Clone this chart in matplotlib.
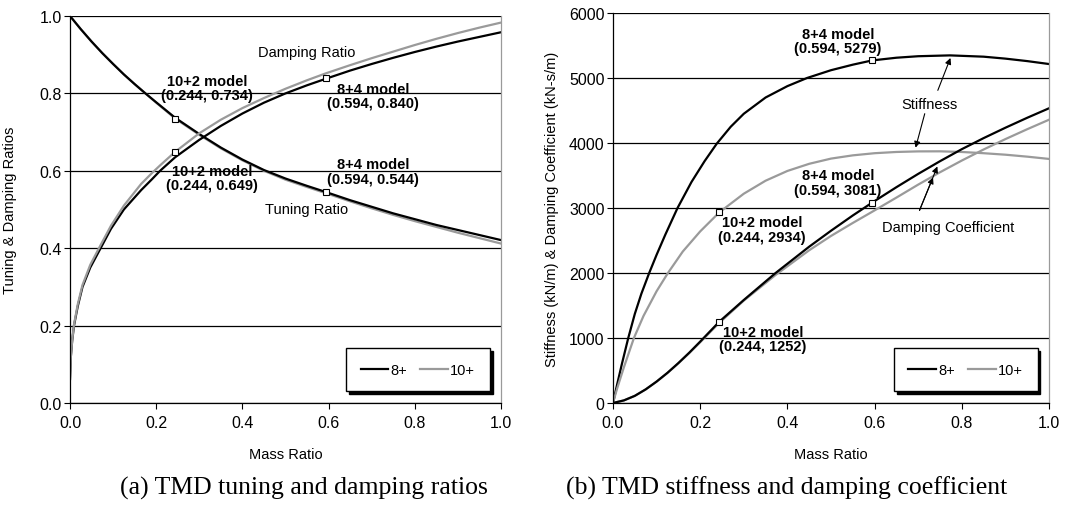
import matplotlib
matplotlib.use("Agg")
import matplotlib.pyplot as plt

plt.rcParams['font.family'] = ['Liberation Sans', 'DejaVu Sans']

BLACK = 'black'
GRAY = '#9a9a9a'

# (a) tuning ratio
tune_x = [0, 0.025, 0.05, 0.075, 0.1, 0.125, 0.15, 0.175, 0.2, 0.244, 0.3, 0.35,
          0.4, 0.45, 0.5, 0.55, 0.594, 0.65, 0.7, 0.75, 0.8, 0.85, 0.9, 0.95, 1.0]
tune_8 = [1.0, 0.966, 0.934, 0.904, 0.876, 0.849, 0.824, 0.8, 0.777, 0.737, 0.695, 0.66,
          0.629, 0.602, 0.58, 0.561, 0.545, 0.524, 0.507, 0.49, 0.475, 0.46, 0.447, 0.434, 0.421]
tune_10 = [1.0, 0.966, 0.934, 0.904, 0.876, 0.849, 0.824, 0.8, 0.776, 0.735, 0.693, 0.658,
           0.627, 0.6, 0.577, 0.558, 0.542, 0.521, 0.503, 0.486, 0.47, 0.455, 0.44, 0.426, 0.412]

# (a) damping ratio
damp_x = [0, 0.002, 0.005, 0.0093, 0.018, 0.029, 0.047, 0.071, 0.095, 0.125, 0.145, 0.165,
          0.19, 0.209, 0.244, 0.3, 0.35, 0.4, 0.45, 0.5, 0.55, 0.594, 0.65, 0.7, 0.75,
          0.8, 0.85, 0.9, 0.95, 1.0]
damp_8 = [0.062, 0.12, 0.16, 0.2, 0.25, 0.3, 0.35, 0.4, 0.45, 0.5, 0.525, 0.55,
          0.578, 0.6, 0.635, 0.68, 0.716, 0.748, 0.776, 0.8, 0.821, 0.838, 0.859, 0.876, 0.892,
          0.907, 0.921, 0.934, 0.946, 0.958]
damp_10 = [0.062, 0.12, 0.162, 0.203, 0.255, 0.305, 0.357, 0.408, 0.458, 0.51, 0.538, 0.566,
           0.594, 0.614, 0.649, 0.697, 0.732, 0.762, 0.788, 0.812, 0.834, 0.852, 0.873, 0.891,
           0.908, 0.925, 0.941, 0.956, 0.97, 0.983]

# (b) stiffness (kN/m)
stiff8_x = [0, 0.005, 0.01, 0.02, 0.035, 0.05, 0.065, 0.083, 0.1, 0.12, 0.148, 0.18, 0.21,
            0.238, 0.27, 0.3, 0.35, 0.4, 0.445, 0.5, 0.55, 0.594, 0.65, 0.7, 0.773, 0.85,
            0.9, 0.95, 1.0]
stiff_8 = [0, 150, 300, 590, 1000, 1370, 1680, 2000, 2280, 2590, 3000, 3400, 3720,
           3990, 4250, 4450, 4700, 4875, 5000, 5120, 5205, 5270, 5312, 5335, 5348, 5328,
           5298, 5260, 5215]
stiff10_x = [0, 0.005, 0.01, 0.025, 0.048, 0.07, 0.1, 0.126, 0.16, 0.2, 0.244, 0.3, 0.35,
             0.4, 0.45, 0.5, 0.55, 0.6, 0.65, 0.7, 0.75, 0.8, 0.85, 0.9, 0.95, 1.0]
stiff_10 = [0, 120, 235, 550, 1000, 1340, 1720, 2000, 2330, 2640, 2934, 3220, 3420,
            3570, 3680, 3760, 3810, 3843, 3862, 3871, 3872, 3862, 3843, 3820, 3790, 3755]

# (b) damping coefficient (kN-s/m)
coef_x = [0, 0.025, 0.05, 0.075, 0.1, 0.125, 0.15, 0.175, 0.2, 0.244, 0.3, 0.372, 0.45,
          0.5, 0.55, 0.594, 0.65, 0.7, 0.75, 0.8, 0.85, 0.9, 0.95, 1.0]
coef_8 = [0, 40, 110, 210, 330, 465, 615, 775, 945, 1252, 1585, 1995, 2405,
          2650, 2885, 3081, 3320, 3525, 3720, 3905, 4075, 4235, 4388, 4534]
coef_10 = [0, 40, 110, 208, 328, 462, 610, 768, 935, 1235, 1575, 1965, 2350,
           2570, 2770, 2940, 3160, 3360, 3550, 3730, 3900, 4060, 4212, 4358]

# marked design points
mark_a_x = [0.244, 0.244, 0.594, 0.594]
mark_a_y = [0.734, 0.649, 0.840, 0.544]
mark_b_x = [0.594, 0.594, 0.244, 0.244]
mark_b_y = [5279, 3081, 2934, 1252]

labels_a = ['10+2 model\n(0.244, 0.734)', '10+2 model\n(0.244, 0.649)',
            '8+4 model\n(0.594, 0.840)', '8+4 model\n(0.594, 0.544)']
labels_a_pos = [(0.318, 0.814), (0.329, 0.581), (0.704, 0.793), (0.704, 0.598)]
labels_b = ['8+4 model\n(0.594, 5279)', '8+4 model\n(0.594, 3081)',
            '10+2 model\n(0.244, 2934)', '10+2 model\n(0.244, 1252)']
labels_b_pos = [(0.516, 5569), (0.516, 3390), (0.342, 2672), (0.344, 985)]

fig = plt.figure(figsize=(10.76, 5.06), dpi=100)
ax1 = fig.add_axes([70 / 1076, 1 - 404 / 506, 431 / 1076, 387 / 506])
ax2 = fig.add_axes([613 / 1076, 1 - 404 / 506, 436 / 1076, 390 / 506])


def style(ax):
    ax.set_xlim(0, 1)
    ax.yaxis.grid(True, color='black', lw=0.9)
    ax.set_axisbelow(True)
    ax.spines['top'].set_visible(False)
    ax.spines['right'].set_color(GRAY)
    ax.spines['right'].set_linewidth(0.9)
    for s in ['left', 'bottom']:
        ax.spines[s].set_linewidth(0.9)
    ax.tick_params(direction='out', length=4, width=0.8, labelsize=11.5)
    ax.tick_params(axis='x', pad=5)
    ax.tick_params(axis='y', pad=2)
    ax.set_xticks([0, 0.2, 0.4, 0.6, 0.8, 1.0])
    ax.set_xticklabels(['0.0', '0.2', '0.4', '0.6', '0.8', '1.0'])
    ax.set_xlabel('Mass Ratio', fontsize=10.5)


def legend(ax, h8, h10):
    ax.legend([h8, h10], ['8+', '10+'], ncol=2, loc='lower right',
              bbox_to_anchor=(0.974, 0.03), borderaxespad=0, fontsize=10.5,
              frameon=True, fancybox=False, edgecolor='black', framealpha=1,
              shadow={'color': 'black', 'alpha': 1}, borderpad=1.0,
              handlelength=1.9, handletextpad=0.15, columnspacing=0.9)


# ---- (a)
style(ax1)
ax1.plot(tune_x, tune_10, color=GRAY, lw=1.6)
ax1.plot(tune_x, tune_8, color=BLACK, lw=1.6)
l8, = ax1.plot(damp_x, damp_8, color=BLACK, lw=1.6)
l10, = ax1.plot(damp_x, damp_10, color=GRAY, lw=1.6)
ax1.plot(mark_a_x, mark_a_y, ls='', marker='s', ms=4.5, mfc='white', mec='black', mew=0.8)
ax1.set_ylim(0, 1)
ax1.set_yticks([0, 0.2, 0.4, 0.6, 0.8, 1.0])
ax1.set_yticklabels(['0.0', '0.2', '0.4', '0.6', '0.8', '1.0'])
ax1.set_ylabel('Tuning & Damping Ratios', fontsize=10.5)
ax1.yaxis.set_label_coords(-0.123, 0.5)
ax1.xaxis.set_label_coords(0.5, -0.114)
for t, (x, y) in zip(labels_a, labels_a_pos):
    ax1.text(x, y, t, ha='center', va='center', fontsize=10.5, fontweight='bold',
             linespacing=1.05)
ax1.text(0.549, 0.906, 'Damping Ratio', ha='center', va='center', fontsize=10.5)
ax1.text(0.549, 0.502, 'Tuning Ratio', ha='center', va='center', fontsize=10.5)
legend(ax1, l8, l10)

# ---- (b)
style(ax2)
k8, = ax2.plot(stiff8_x, stiff_8, color=BLACK, lw=1.6)
k10, = ax2.plot(stiff10_x, stiff_10, color=GRAY, lw=1.6)
ax2.plot(coef_x, coef_10, color=GRAY, lw=1.6)
ax2.plot(coef_x, coef_8, color=BLACK, lw=1.6)
ax2.plot(mark_b_x, mark_b_y, ls='', marker='s', ms=4.5, mfc='white', mec='black', mew=0.8)
ax2.set_ylim(0, 6000)
ax2.set_yticks(range(0, 6001, 1000))
ax2.set_ylabel('Stiffness (kN/m) & Damping Coefficient (kN-s/m)', fontsize=10.5)
ax2.yaxis.set_label_coords(-0.124, 0.5)
ax2.xaxis.set_label_coords(0.5, -0.113)
for t, (x, y) in zip(labels_b, labels_b_pos):
    ax2.text(x, y, t, ha='center', va='center', fontsize=10.5, fontweight='bold',
             linespacing=1.05)
ax2.text(0.726, 4605, 'Stiffness', ha='center', va='center', fontsize=10.5)
ax2.text(0.768, 2708, 'Damping Coefficient', ha='center', va='center', fontsize=10.5)
arrow = dict(arrowstyle='-|>', color='black', lw=0.8, mutation_scale=9,
             shrinkA=0, shrinkB=0)
ax2.annotate('', xy=(0.774, 5308), xytext=(0.745, 4810), arrowprops=arrow)
ax2.annotate('', xy=(0.694, 3928), xytext=(0.715, 4451), arrowprops=arrow)
ax2.annotate('', xy=(0.744, 3639), xytext=(0.703, 2964), arrowprops=arrow)
ax2.annotate('', xy=(0.734, 3470), xytext=(0.703, 2964), arrowprops=arrow)
legend(ax2, k8, k10)

fig.text(0.2825, 0.034, '(a) TMD tuning and damping ratios', ha='center', va='center',
         family=['Liberation Serif', 'DejaVu Serif'], fontsize=18.5)
fig.text(0.7314, 0.034, '(b) TMD stiffness and damping coefficient', ha='center',
         va='center', family=['Liberation Serif', 'DejaVu Serif'], fontsize=18.5)

fig.savefig('out.png', dpi=100)
